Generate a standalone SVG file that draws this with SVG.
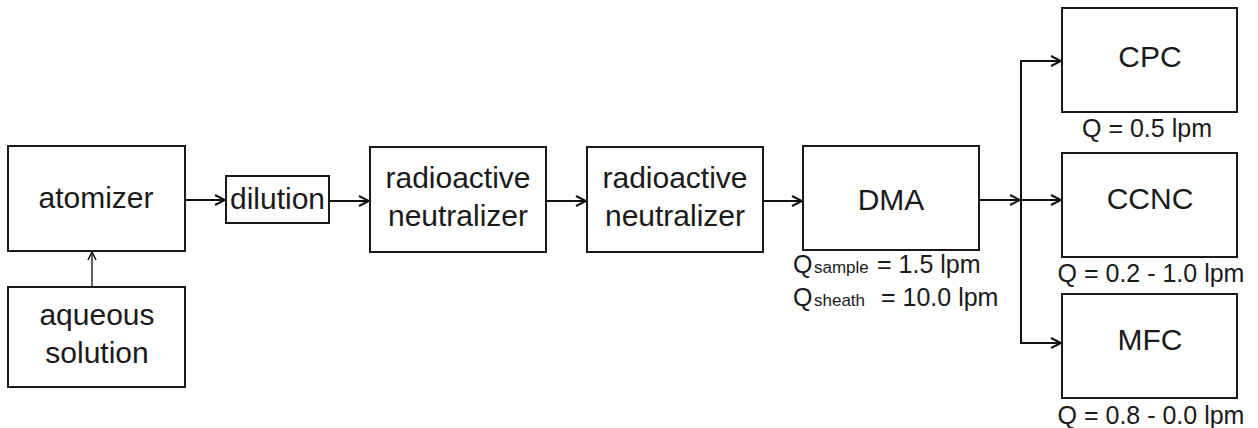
<svg xmlns="http://www.w3.org/2000/svg" width="1258" height="428" viewBox="0 0 1258 428">
<style>
.box{fill:#fff;stroke:#1a1a1a;stroke-width:2}
.t{font-family:"Liberation Sans",Arial,sans-serif;font-size:30px;fill:#1a1a1a;text-anchor:middle}
.s{font-family:"Liberation Sans",Arial,sans-serif;font-size:25px;fill:#1a1a1a;text-anchor:middle}
.q{font-family:"Liberation Sans",Arial,sans-serif;font-size:25px;fill:#1a1a1a}
.sub{font-size:17px}
.c{fill:none;stroke:#111;stroke-width:2}
.thin{fill:none;stroke:#111;stroke-width:1.3}
</style>
<defs>
<marker id="ah" markerUnits="userSpaceOnUse" markerWidth="14" markerHeight="14" viewBox="-12 -7 14 14" refX="0" refY="0" orient="auto">
<path d="M-10,-5 L0,0 L-10,5" fill="none" stroke="#111" stroke-width="2"/>
</marker>
<marker id="ah1" markerUnits="userSpaceOnUse" markerWidth="14" markerHeight="14" viewBox="-12 -7 14 14" refX="0" refY="0" orient="auto">
<path d="M-8,-4 L0,0 L-8,4" fill="none" stroke="#111" stroke-width="1.5"/>
</marker>
</defs>
<g id="connectors">
<line class="thin" x1="92" y1="287" x2="92" y2="252" marker-end="url(#ah1)"/>
<line class="c" x1="185" y1="200" x2="225" y2="200" marker-end="url(#ah)"/>
<line class="c" x1="329" y1="201" x2="369" y2="201" marker-end="url(#ah)"/>
<line class="c" x1="546" y1="201" x2="586" y2="201" marker-end="url(#ah)"/>
<line class="c" x1="763" y1="201" x2="802" y2="201" marker-end="url(#ah)"/>
<line class="c" x1="979" y1="200" x2="1020" y2="200" marker-end="url(#ah)"/>
<line class="c" x1="1021" y1="200" x2="1061" y2="200" marker-end="url(#ah)"/>
<polyline class="c" points="1061,61 1021,61 1021,343 1061,343"/>
<line class="c" x1="1040" y1="61" x2="1061" y2="61" marker-end="url(#ah)"/>
<line class="c" x1="1040" y1="343" x2="1061" y2="343" marker-end="url(#ah)"/>
</g>
<g id="atomizer">
<rect class="box" x="8" y="146" width="177" height="105"/>
<text class="t" x="96" y="208">atomizer</text>
</g>
<g id="aqueous">
<rect class="box" x="8" y="287" width="177" height="100"/>
<text class="t" x="97" y="325">aqueous</text>
<text class="t" x="97" y="363">solution</text>
</g>
<g id="dilution">
<rect class="box" x="226" y="176" width="103" height="47"/>
<text class="t" x="277.5" y="209">dilution</text>
</g>
<g id="neutralizer1">
<rect class="box" x="370" y="147" width="176" height="105"/>
<text class="t" x="458" y="188">radioactive</text>
<text class="t" x="458" y="226">neutralizer</text>
</g>
<g id="neutralizer2">
<rect class="box" x="587" y="147" width="176" height="105"/>
<text class="t" x="675" y="188">radioactive</text>
<text class="t" x="675" y="226">neutralizer</text>
</g>
<g id="dma">
<rect class="box" x="803" y="146" width="176" height="104"/>
<text class="t" x="891" y="210">DMA</text>
<text class="q" y="273"><tspan x="793">Q</tspan><tspan class="sub" x="814">sample</tspan><tspan x="877">= 1.5 lpm</tspan></text>
<text class="q" y="306"><tspan x="793">Q</tspan><tspan class="sub" x="814">sheath</tspan><tspan x="881">= 10.0 lpm</tspan></text>
</g>
<g id="cpc">
<rect class="box" x="1062" y="8" width="175" height="104"/>
<text class="t" x="1150" y="67">CPC</text>
<text class="s" x="1147" y="137">Q = 0.5 lpm</text>
</g>
<g id="ccnc">
<rect class="box" x="1062" y="153" width="175" height="104"/>
<text class="t" x="1150" y="209">CCNC</text>
<text class="s" x="1151" y="282">Q = 0.2 - 1.0 lpm</text>
</g>
<g id="mfc">
<rect class="box" x="1062" y="294" width="175" height="104"/>
<text class="t" x="1150" y="350">MFC</text>
<text class="s" x="1151" y="424">Q = 0.8 - 0.0 lpm</text>
</g>
</svg>
